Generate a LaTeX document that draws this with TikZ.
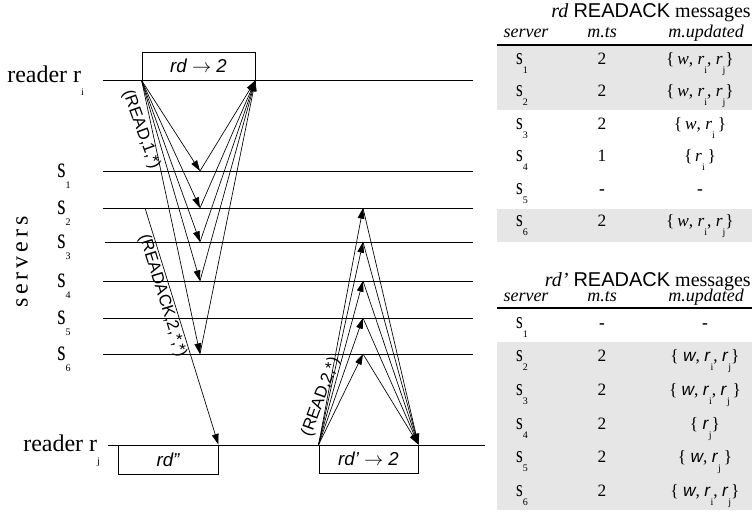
\documentclass[tikz,border=0pt]{standalone}
\usepackage{fontspec}
\usepackage{graphicx}
\setmainfont{Liberation Serif}
\setsansfont{Liberation Sans}
\usetikzlibrary{arrows.meta}
\definecolor{rowgray}{RGB}{230,230,230}
\newcommand{\lsub}[1]{\raisebox{-0.55em}{\fontsize{7.5}{8}\selectfont #1}}
\newcommand{\tallS}{\scalebox{1}[1.35]{s}}
\newcommand{\srv}[1]{\tallS\lsub{#1}}
\newcommand{\rsub}[1]{\textit{r}\lsub{#1}}
\newcommand{\rsf}[1]{\textsf{\itshape r}\lsub{#1}}
\begin{document}
\begin{tikzpicture}[x=0.75pt,y=-0.75pt,
    lane/.style={line width=0.6pt},
    msg/.style={line width=0.5pt,-{Triangle[length=8pt,width=5pt]}},
    opbox/.style={draw,line width=0.6pt,inner sep=0pt,font=\sffamily\itshape\fontsize{14}{16}\selectfont},
    lbl/.style={inner sep=0pt,font=\fontsize{18}{20}\selectfont},
    srvlbl/.style={inner sep=0pt,anchor=base west,font=\fontsize{16}{18}\selectfont},
    tag/.style={inner sep=1pt,font=\sffamily\fontsize{12.5}{14}\selectfont},
    cell/.style={inner sep=0pt,anchor=base,font=\fontsize{13}{15}\selectfont},
    head/.style={inner sep=0pt,anchor=base east,font=\fontsize{15}{17}\selectfont}]
  \useasboundingbox (0,0) rectangle (752,518);
  % Shading: READACK tables
  \fill[rowgray] (497,44.5) rectangle (752,109.5);
  \fill[rowgray] (497,208.5) rectangle (752,241.5);
  \fill[rowgray] (497,341.6) rectangle (752,509.6);
  \draw[line width=1.2pt] (497,45) -- (752,45);
  \draw[line width=1.2pt] (497,308) -- (752,308);
  % Nodes: time lines
  \coordinate (riL) at (103,80);  \coordinate (riR) at (473,80);
  \coordinate (s1L) at (103,171); \coordinate (s1R) at (473,171);
  \coordinate (s2L) at (103,208); \coordinate (s2R) at (473,208);
  \coordinate (s3L) at (105,242); \coordinate (s3R) at (473,242);
  \coordinate (s4L) at (103,281); \coordinate (s4R) at (473,281);
  \coordinate (s5L) at (103,318); \coordinate (s5R) at (473,318);
  \coordinate (s6L) at (103,354); \coordinate (s6R) at (473,354);
  \coordinate (rjL) at (108,445); \coordinate (rjR) at (485,445);
  \draw[lane] (riL) -- (riR);
  \draw[lane] (s1L) -- (s1R);
  \draw[lane] (s2L) -- (s2R);
  \draw[lane] (s3L) -- (s3R);
  \draw[lane] (s4L) -- (s4R);
  \draw[lane] (s5L) -- (s5R);
  \draw[lane] (s6L) -- (s6R);
  \draw[lane] (rjL) -- (rjR);
  % Nodes: process labels
  \node[lbl,anchor=base west] (ri) at (7,82) {reader r\lsub{i}};
  \node[lbl,anchor=base west] (rj) at (23,451) {reader r\lsub{j}};
  \node[lbl,rotate=90] (servers) at (22,262) {s\,e\,r\,v\,e\,r\,s};
  \node[srvlbl] (l1) at (57,177) {\srv{1}};
  \node[srvlbl] (l2) at (57,214) {\srv{2}};
  \node[srvlbl] (l3) at (57,248) {\srv{3}};
  \node[srvlbl] (l4) at (57,287) {\srv{4}};
  \node[srvlbl] (l5) at (57,324) {\srv{5}};
  \node[srvlbl] (l6) at (57,360) {\srv{6}};
  % Nodes: operations
  \node[opbox,minimum width=84.75pt,minimum height=21pt] (rd) at (198.5,66) {rd $\rightarrow$ 2};
  \node[opbox,minimum width=75pt,minimum height=21.75pt] (rdpp) at (168,459.5) {rd"};
  \node[opbox,minimum width=74.25pt,minimum height=21pt] (rdp) at (368.5,459) {rd’ $\rightarrow$ 2};
  % Arrows: rd, READ then READACK
  \coordinate (q1) at (200,171);
  \coordinate (q2) at (200,208);
  \coordinate (q3) at (200,242);
  \coordinate (q4) at (200,281);
  \coordinate (q6) at (200,354);
  \draw[msg] (rd.south west) -- (q1);
  \draw[msg] (rd.south west) -- (q2);
  \draw[msg] (rd.south west) -- (q3);
  \draw[msg] (rd.south west) -- (q4);
  \draw[msg] (rd.south west) -- (q6);
  \draw[msg] (q1) -- (rd.south east);
  \draw[msg] (q2) -- (rd.south east);
  \draw[msg] (q3) -- (rd.south east);
  \draw[msg] (q4) -- (rd.south east);
  \draw[msg] (q6) -- (rd.south east);
  \node[tag,rotate=-70] (readone) at (141,130) {(READ,1,*)};
  % Arrows: READACK to rd''
  \coordinate (ack) at (145,208);
  \draw[msg] (ack) -- (rdpp.north east) node[tag,pos=0.36,sloped,below] (ackmsg) {(READACK,2,*,*)};
  % Arrows: rd', READ then READACK
  \coordinate (u2) at (363,208);
  \coordinate (u3) at (363,242);
  \coordinate (u4) at (363,281);
  \coordinate (u5) at (363,318);
  \coordinate (u6) at (363,354);
  \draw[msg] (rdp.north west) -- (u2);
  \draw[msg] (rdp.north west) -- (u3);
  \draw[msg] (rdp.north west) -- (u4);
  \draw[msg] (rdp.north west) -- (u5);
  \draw[msg] (rdp.north west) -- (u6);
  \draw[msg] (u2) -- (rdp.north east);
  \draw[msg] (u3) -- (rdp.north east);
  \draw[msg] (u4) -- (rdp.north east);
  \draw[msg] (u5) -- (rdp.north east);
  \draw[msg] (u6) -- (rdp.north east);
  \node[tag,rotate=70] (readtwo) at (321,397) {(READ,2,*)};
  % Table: rd READACK messages
  \node[head] (h1) at (751,17) {\textit{rd} \textsf{READACK} messages};
  \node[cell,font=\itshape\fontsize{13.5}{15}\selectfont] (h1a) at (526,37) {server};
  \node[cell,font=\itshape\fontsize{13.5}{15}\selectfont] (h1b) at (602,37) {m.ts};
  \node[cell,font=\itshape\fontsize{13.5}{15}\selectfont] (h1c) at (706,37) {m.updated};
  \node[cell] (a1s) at (522,64) {\srv{1}};
  \node[cell] (a1t) at (602,64) {2};
  \node[cell] (a1u) at (700,64) {\{\,\textit{w}, \rsub{i}, \rsub{j}\}};
  \node[cell] (a2s) at (522,96) {\srv{2}};
  \node[cell] (a2t) at (602,96) {2};
  \node[cell] (a2u) at (700,96) {\{\,\textit{w}, \rsub{i}, \rsub{j}\}};
  \node[cell] (a3s) at (522,129) {\srv{3}};
  \node[cell] (a3t) at (602,129) {2};
  \node[cell] (a3u) at (700,129) {\{\,\textit{w}, \rsub{i}\,\}};
  \node[cell] (a4s) at (522,161) {\srv{4}};
  \node[cell] (a4t) at (602,161) {1};
  \node[cell] (a4u) at (700,161) {\{\,\rsub{i}\,\}};
  \node[cell] (a5s) at (522,194) {\srv{5}};
  \node[cell] (a5t) at (602,194) {\textbf{-}};
  \node[cell] (a5u) at (700,194) {\textbf{-}};
  \node[cell] (a6s) at (522,226) {\srv{6}};
  \node[cell] (a6t) at (602,226) {2};
  \node[cell] (a6u) at (700,226) {\{\,\textit{w}, \rsub{i}, \rsub{j}\}};
  % Table: rd' READACK messages
  \node[head] (h2) at (751,286) {\textit{rd’} \textsf{READACK} messages};
  \node[cell,font=\itshape\fontsize{13.5}{15}\selectfont] (h2a) at (526,301) {server};
  \node[cell,font=\itshape\fontsize{13.5}{15}\selectfont] (h2b) at (602,301) {m.ts};
  \node[cell,font=\itshape\fontsize{13.5}{15}\selectfont] (h2c) at (706,301) {m.updated};
  \node[cell] (b1s) at (522,328) {\srv{1}};
  \node[cell] (b1t) at (602,328) {\textbf{-}};
  \node[cell] (b1u) at (705,328) {\textbf{-}};
  \node[cell] (b2s) at (522,361) {\srv{2}};
  \node[cell] (b2t) at (602,361) {2};
  \node[cell] (b2u) at (705,361) {\{ \textsf{\itshape w}, \rsf{i}, \rsf{j}\}};
  \node[cell] (b3s) at (522,395) {\srv{3}};
  \node[cell] (b3t) at (602,395) {2};
  \node[cell] (b3u) at (705,395) {\{ \textsf{\itshape w}, \rsf{i}, \rsf{j}\,\}};
  \node[cell] (b4s) at (522,429) {\srv{4}};
  \node[cell] (b4t) at (602,429) {2};
  \node[cell] (b4u) at (705,429) {\{ \rsf{j}\}};
  \node[cell] (b5s) at (522,462) {\srv{5}};
  \node[cell] (b5t) at (602,462) {2};
  \node[cell] (b5u) at (705,462) {\{ \textsf{\itshape w}, \rsf{j}\,\}};
  \node[cell] (b6s) at (522,496) {\srv{6}};
  \node[cell] (b6t) at (602,496) {2};
  \node[cell] (b6u) at (705,496) {\{ \textsf{\itshape w}, \rsf{i}, \rsf{j}\}};
\end{tikzpicture}
\end{document}
